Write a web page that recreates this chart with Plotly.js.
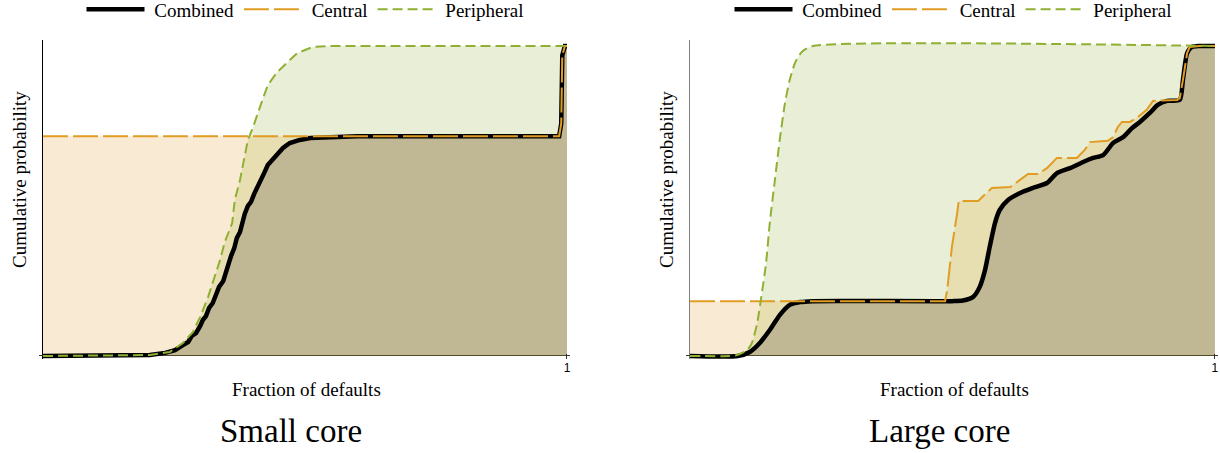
<!DOCTYPE html>
<html>
<head>
<meta charset="utf-8">
<script src="https://cdn.plot.ly/plotly-3.0.1.min.js"></script>
<style>html,body{margin:0;padding:0;background:#fff;}#chart{width:1220px;height:453px;}</style>
</head>
<body>
<div id="chart"></div>
<script>
// ---- Small core (left panel) ----
const smallCombinedX = [0, 0.15, 0.204, 0.233, 0.252, 0.267, 0.277, 0.284, 0.292, 0.300, 0.305, 0.311, 0.317, 0.324, 0.330, 0.336, 0.344, 0.349, 0.355, 0.359, 0.365, 0.370, 0.376, 0.380, 0.385, 0.391, 0.397, 0.403, 0.408, 0.414, 0.422, 0.429, 0.439, 0.447, 0.458, 0.471, 0.490, 0.510, 0.548, 0.60, 0.985, 0.989, 0.991, 0.996, 1.0];
const smallCombinedY = [0, 0.001, 0.003, 0.010, 0.019, 0.035, 0.045, 0.065, 0.074, 0.097, 0.116, 0.129, 0.155, 0.171, 0.194, 0.223, 0.242, 0.271, 0.294, 0.323, 0.348, 0.381, 0.400, 0.432, 0.458, 0.484, 0.497, 0.523, 0.542, 0.568, 0.590, 0.616, 0.635, 0.655, 0.671, 0.687, 0.697, 0.703, 0.706, 0.709, 0.709, 0.75, 0.97, 1.0, 1.0];
const smallCentralX = [0, 0.985, 0.989, 0.991, 0.996, 1.0];
const smallCentralY = [0.709, 0.709, 0.75, 0.97, 1.0, 1.0];
const smallPeripheralX = [0, 0.15, 0.204, 0.242, 0.267, 0.286, 0.300, 0.315, 0.328, 0.338, 0.347, 0.361, 0.366, 0.376, 0.391, 0.401, 0.414, 0.429, 0.447, 0.466, 0.485, 0.515, 0.548, 1.0];
const smallPeripheralY = [0, 0.001, 0.003, 0.013, 0.042, 0.077, 0.126, 0.190, 0.255, 0.310, 0.368, 0.429, 0.503, 0.568, 0.697, 0.739, 0.803, 0.874, 0.916, 0.948, 0.977, 0.997, 1.0, 1.0];

// ---- Large core (right panel) ----
const largeCombinedX = [0, 0.091, 0.114, 0.133, 0.152, 0.171, 0.190, 0.210, 0.234, 0.50, 0.520, 0.539, 0.552, 0.562, 0.571, 0.581, 0.590, 0.606, 0.629, 0.653, 0.680, 0.699, 0.724, 0.749, 0.768, 0.787, 0.806, 0.825, 0.842, 0.857, 0.876, 0.891, 0.909, 0.933, 0.939, 0.947, 0.956, 0.971, 1.0];
const largeCombinedY = [0, 0, 0.013, 0.042, 0.084, 0.132, 0.165, 0.174, 0.177, 0.177, 0.179, 0.190, 0.223, 0.277, 0.352, 0.429, 0.471, 0.503, 0.526, 0.542, 0.558, 0.590, 0.606, 0.626, 0.639, 0.648, 0.687, 0.706, 0.735, 0.755, 0.784, 0.810, 0.823, 0.826, 0.890, 0.977, 0.997, 1.0, 1.0];
const largeCentralX = [0, 0.486, 0.490, 0.499, 0.509, 0.512, 0.549, 0.575, 0.610, 0.632, 0.644, 0.663, 0.680, 0.699, 0.737, 0.752, 0.762, 0.796, 0.806, 0.815, 0.823, 0.838, 0.851, 0.870, 0.882, 0.928, 0.933, 0.939, 0.947, 0.952, 0.971, 1.0];
const largeCentralY = [0.177, 0.177, 0.213, 0.352, 0.461, 0.500, 0.500, 0.542, 0.545, 0.574, 0.587, 0.587, 0.606, 0.639, 0.639, 0.665, 0.690, 0.694, 0.706, 0.739, 0.755, 0.755, 0.768, 0.794, 0.823, 0.826, 0.832, 0.890, 0.977, 0.997, 1.0, 1.0];
const largePeripheralX = [0, 0.076, 0.0895, 0.109, 0.118, 0.128, 0.137, 0.145, 0.152, 0.162, 0.171, 0.181, 0.190, 0.200, 0.213, 0.234, 1.0];
const largePeripheralY = [0, 0, 0.003, 0.019, 0.042, 0.106, 0.203, 0.300, 0.429, 0.571, 0.697, 0.816, 0.890, 0.945, 0.981, 1.0, 1.0];

const seriesNames = ['Combined', 'Central', 'Peripheral'];
const panelTitles = ['Small core', 'Large core'];
const xTitle = 'Fraction of defaults';
const yTitle = 'Cumulative probability';
const xTickVals = [1];
const xTickText = ['1'];

const colCombined = '#000000';
const colCentral = '#E19C24';
const colPeripheral = '#8FB032';
const fillCombined = 'rgba(0,0,0,0.17)';
const fillCentral = 'rgba(225,156,36,0.2)';
const fillPeripheral = 'rgba(143,176,50,0.2)';
const SERIF_FAMILY = 'Liberation Serif, serif';
const NBSP = '\u00A0';

function panel(sfx, legendId, comb, cen, per, combShape, perShape) {
  const xa = 'x' + sfx, ya = 'y' + sfx;
  const fills = [
    {x: per[0], y: per[1], shape: perShape, c: fillPeripheral},
    {x: cen[0], y: cen[1], shape: 'linear', c: fillCentral},
    {x: comb[0], y: comb[1], shape: combShape, c: fillCombined}
  ].map(f => ({
    type: 'scatter', mode: 'lines', x: f.x, y: f.y, xaxis: xa, yaxis: ya,
    line: {width: 0, shape: f.shape, smoothing: 0.6}, fill: 'tozeroy', fillcolor: f.c,
    showlegend: false, hoverinfo: 'skip'
  }));
  const lines = [
    {type: 'scatter', mode: 'lines', name: NBSP + seriesNames[0], x: comb[0], y: comb[1], xaxis: xa, yaxis: ya,
     line: {color: colCombined, width: 4.5, shape: combShape, smoothing: 0.6}, legend: legendId},
    {type: 'scatter', mode: 'lines', name: NBSP + seriesNames[1], x: cen[0], y: cen[1], xaxis: xa, yaxis: ya,
     line: {color: colCentral, width: 2, dash: '25px,5px'}, legend: legendId},
    {type: 'scatter', mode: 'lines', name: NBSP + seriesNames[2], x: per[0], y: per[1], xaxis: xa, yaxis: ya,
     line: {color: colPeripheral, width: 2, dash: '10px,5px', shape: perShape, smoothing: 0.6}, legend: legendId}
  ];
  return fills.concat(lines);
}

const data = [].concat(
  panel('', 'legend', [smallCombinedX, smallCombinedY], [smallCentralX, smallCentralY], [smallPeripheralX, smallPeripheralY], 'linear', 'linear'),
  panel('2', 'legend2', [largeCombinedX, largeCombinedY], [largeCentralX, largeCentralY], [largePeripheralX, largePeripheralY], 'spline', 'spline')
);

function xaxisDef(domain) {
  return {domain: domain, range: [-0.008, 1.005], showgrid: false, showline: false,
    zeroline: true, zerolinecolor: '#000', zerolinewidth: 1.3,
    tickmode: 'array', tickvals: xTickVals, ticktext: xTickText, ticks: 'inside', ticklen: 5,
    tickcolor: '#333', tickfont: {family: 'Liberation Sans, sans-serif', size: 12, color: '#000'}, fixedrange: true};
}
function yaxisDef(anchor) {
  return {domain: [0.2073, 0.9121], range: [-0.01, 1.02], anchor: anchor, showgrid: false, showline: false,
    zeroline: true, zerolinecolor: '#333', zerolinewidth: 1.3, showticklabels: false, ticks: '', fixedrange: true};
}
const xa1 = xaxisDef([0.0318, 0.4669]);
const xa2 = xaxisDef([0.5621, 0.9980]);
xa2.zerolinecolor = '#808080';

function legendDef(xc) {
  return {orientation: 'h', x: xc, xanchor: 'center', y: 1 - 9.5/453, yanchor: 'middle',
    font: {family: SERIF_FAMILY, size: 19, color: '#000'}, bgcolor: 'rgba(0,0,0,0)', itemwidth: 58, tracegroupgap: 0};
}

function annFont(size) { return {family: SERIF_FAMILY, size: size, color: '#000'}; }
const annotations = [
  {text: xTitle, xref: 'paper', yref: 'paper', x: 306/1220, y: 1 - 389/453, showarrow: false, font: annFont(19), xanchor: 'center', yanchor: 'middle'},
  {text: xTitle, xref: 'paper', yref: 'paper', x: 954/1220, y: 1 - 389/453, showarrow: false, font: annFont(19), xanchor: 'center', yanchor: 'middle'},
  {text: yTitle, xref: 'paper', yref: 'paper', x: 19/1220, y: 1 - 180/453, showarrow: false, font: annFont(19), textangle: -90, xanchor: 'center', yanchor: 'middle'},
  {text: yTitle, xref: 'paper', yref: 'paper', x: 666/1220, y: 1 - 180/453, showarrow: false, font: annFont(19), textangle: -90, xanchor: 'center', yanchor: 'middle'},
  {text: panelTitles[0], xref: 'paper', yref: 'paper', x: 291/1220, y: 1 - 431/453, showarrow: false, font: annFont(33), xanchor: 'center', yanchor: 'middle'},
  {text: panelTitles[1], xref: 'paper', yref: 'paper', x: 939/1220, y: 1 - 431/453, showarrow: false, font: annFont(33), xanchor: 'center', yanchor: 'middle'}
];

const layout = {
  width: 1220, height: 453, margin: {l: 0, r: 0, t: 0, b: 0, autoexpand: false},
  font: {family: SERIF_FAMILY, color: '#000'},
  paper_bgcolor: '#fff', plot_bgcolor: 'rgba(0,0,0,0)',
  xaxis: xa1, yaxis: yaxisDef('x'), xaxis2: Object.assign(xa2, {anchor: 'y2'}), yaxis2: yaxisDef('x2'),
  legend: legendDef(305/1220), legend2: legendDef(953/1220),
  annotations: annotations, showlegend: true
};

Plotly.newPlot('chart', data, layout, {displayModeBar: false});
</script>
</body>
</html>
